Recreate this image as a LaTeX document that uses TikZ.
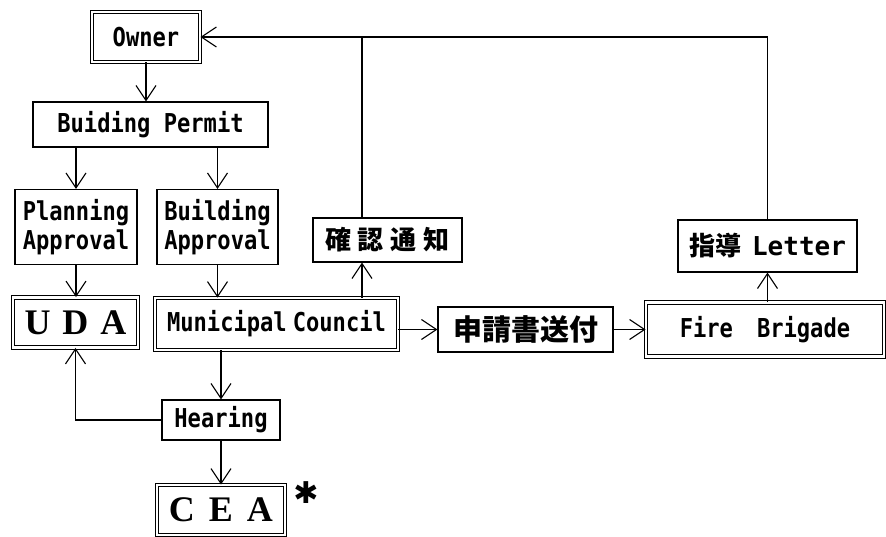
\documentclass[tikz,border=0pt]{standalone}
\usepackage{fontspec}
\usetikzlibrary{arrows.meta}
\newfontfamily\monof{DejaVu Sans Mono}[FakeStretch=0.85]
\newfontfamily\monow{DejaVu Sans Mono}
\newfontfamily\seriff{Liberation Serif}
\newfontfamily\cjkf{Noto Sans CJK JP}
\newfontfamily\symf{DejaVu Sans}
\begin{document}
\begin{tikzpicture}[x=1pt,y=-1pt,
  box/.style={draw,line width=1.1pt,inner sep=0pt,align=center,
    font=\monof\bfseries\fontsize{26}{29}\selectfont},
  dbox/.style={box,double,double distance=2.6pt,line width=0.9pt},
  arr/.style={line width=1.1pt,-{Straight Barb[length=15pt,width=20pt,line width=1.1pt]}},
  conn/.style={line width=1.1pt},
  cjk/.style={font=\cjkf\bfseries\fontsize{26}{28}\selectfont},
  serifbig/.style={font=\seriff\bfseries\fontsize{36}{38}\selectfont}]
\useasboundingbox (0,0) rectangle (886,536);
\fill[white] (0,0) rectangle (886,536);

% nodes
\node[dbox,minimum width=108,minimum height=50] (own) at (146,37) {Owner};
\node[box,minimum width=235,minimum height=45] (per) at (150.5,124.5) {Buiding Permit};
\node[box,minimum width=122,minimum height=75] (pla) at (76,227) {Planning\\Approval};
\node[box,minimum width=121,minimum height=75] (bap) at (217.5,227) {Building\\Approval};
\node[dbox,serifbig,minimum width=125,minimum height=50] (uda) at (75.5,322.5) {U\hspace{12pt}D\hspace{12pt}A};
\node[dbox,minimum width=243,minimum height=52] (mun) at (276.5,324) {Municipal\hspace{6pt}Council};
\node[box,cjk,minimum width=149,minimum height=44] (kak) at (387.5,240) {確\hspace{7pt}認\hspace{7pt}通\hspace{7pt}知};
\node[box,cjk,font=\cjkf\bfseries\fontsize{29}{30}\selectfont,minimum width=175,minimum height=45] (shi) at (525.5,329.5) {申請書送付};
\node[dbox,minimum width=238,minimum height=54] (fir) at (765,329.5) {Fire\hspace{24pt}Brigade};
\node[box,minimum width=179,minimum height=52] (let) at (767.5,246) {{\cjkf\bfseries 指導}\hspace{11pt}{\monow Letter}};
\node[box,minimum width=118,minimum height=40] (hea) at (221,420) {Hearing};
\node[dbox,serifbig,minimum width=128,minimum height=50] (cea) at (221,510) {C\hspace{14pt}E\hspace{14pt}A};
\node[font=\symf\bfseries\fontsize{30}{32}\selectfont,inner sep=0pt] (ast) at (306,493) {✱};

% helper coordinates
\coordinate (kx) at (362,0);

% connectors
\draw[arr] (own.south) -- (own.south |- per.north);
\draw[arr] (pla.north |- per.south) -- (pla.north);
\draw[arr] (bap.north |- per.south) -- (bap.north);
\draw[arr] (pla.south) -- (pla.south |- uda.north);
\draw[arr] (bap.south) -- (bap.south |- mun.north);
\draw[arr] (mun.north -| kx) -- (kak.south -| kx);
\draw[conn] (kak.north -| kx) -- (kx |- own.east);
\draw[arr] (let.north) |- (own.east);
\draw[arr] (shi.west -| mun.east) -- (shi.west);
\draw[arr] (shi.east) -- (shi.east -| fir.west);
\draw[arr] (let.south |- fir.north) -- (let.south);
\draw[arr] (hea.north |- mun.south) -- (hea.north);
\draw[arr] (hea.west) -| (uda.south);
\draw[arr] (hea.south) -- (hea.south |- cea.north);
\end{tikzpicture}
\end{document}
